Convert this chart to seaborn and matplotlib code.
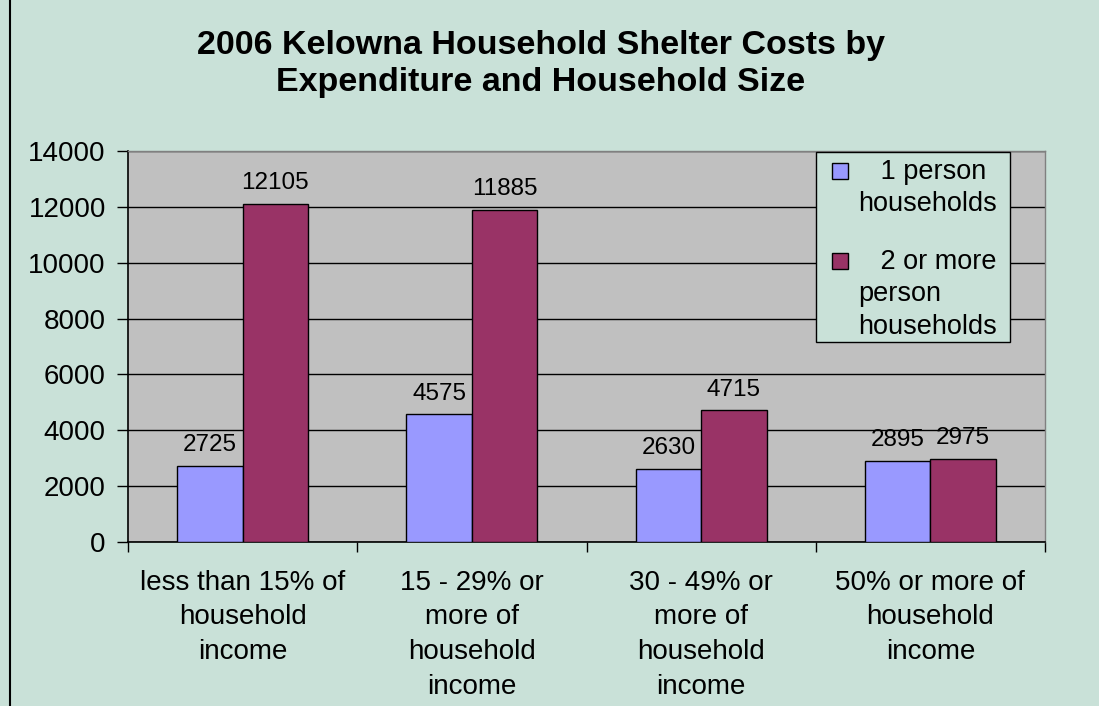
import matplotlib
matplotlib.use("Agg")
import matplotlib.pyplot as plt
import seaborn as sns
import pandas as pd
from matplotlib.patches import Rectangle

categories = ["less than 15% of\nhousehold\nincome",
              "15 - 29% or\nmore of\nhousehold\nincome",
              "30 - 49% or\nmore of\nhousehold\nincome",
              "50% or more of\nhousehold\nincome"]
series_names = ["1 person households", "2 or more person households"]
legend_labels = ["   1 person\nhouseholds", "   2 or more\nperson\nhouseholds"]
one_person = [2725, 4575, 2630, 2895]
two_plus = [12105, 11885, 4715, 2975]
yticks = [0, 2000, 4000, 6000, 8000, 10000, 12000, 14000]
colors = ["#9999FF", "#993366"]

df = pd.DataFrame({
    "category": categories * 2,
    "series": [series_names[0]] * 4 + [series_names[1]] * 4,
    "value": one_person + two_plus,
})

sns.set_theme(style="white")
plt.rcParams['font.family'] = ['Liberation Sans', 'DejaVu Sans']
plt.rcParams['text.color'] = 'black'
plt.rcParams['xtick.color'] = 'black'
plt.rcParams['ytick.color'] = 'black'

W, H = 1099, 706
bg = "#C9E1D8"
fig = plt.figure(figsize=(W/100, H/100), dpi=100, facecolor=bg)
ax = fig.add_axes([128/W, 1 - 542/H, (1045 - 128)/W, (542 - 151)/H])
ax.set_facecolor("#C0C0C0")

sns.barplot(data=df, x="category", y="value", hue="series", ax=ax,
            palette=colors, width=0.572, gap=0,
            edgecolor="black", linewidth=1.0, saturation=1, zorder=3,
            legend=False)

ax.set_ylim(0, 14000)
ax.set_xlim(-0.5, 3.5)
ax.set_yticks(yticks)
ax.set_yticklabels([str(v) for v in yticks], fontsize=20)
ax.yaxis.grid(True, color="black", linewidth=1.0, zorder=1)
ax.set_axisbelow(True)
ax.tick_params(axis="y", direction="out", length=8, width=1, color="black", pad=8, left=True)
ax.set_xticks([0, 1, 2, 3])
ax.set_xticklabels(categories, fontsize=20, linespacing=1.43)
ax.tick_params(axis="x", length=0, pad=20)
ax.set_xticks([-0.5, 0.5, 1.5, 2.5, 3.5], minor=True)
ax.tick_params(axis="x", which="minor", direction="out", length=7, width=1, color="black", bottom=True)
ax.set_xlabel("")
ax.set_ylabel("")
for s in ["top", "right"]:
    ax.spines[s].set_visible(True)
    ax.spines[s].set_color("#808080")
    ax.spines[s].set_linewidth(1)
for s in ["left", "bottom"]:
    ax.spines[s].set_color("black")
    ax.spines[s].set_linewidth(1.2)

for cont in ax.containers:
    ax.bar_label(cont, labels=[f"{int(v)}" for v in cont.datavalues],
                 padding=7, fontsize=17.5, color="black")

# legend box (manual, Excel style: marker aligned with first line)
fig.patches.append(Rectangle((816/W, 1 - 342/H), (1010 - 816)/W, (342 - 152)/H,
                             transform=fig.transFigure, facecolor=bg,
                             edgecolor="black", linewidth=1, zorder=5))
leg_tops = [159, 249]
for lab, col, top in zip(legend_labels, colors, leg_tops):
    fig.patches.append(Rectangle((832/W, 1 - (top + 20)/H), 16/W, 16/H,
                                 transform=fig.transFigure, facecolor=col,
                                 edgecolor="black", linewidth=1, zorder=6))
    fig.text(858/W, 1 - top/H, lab, ha="left", va="top", fontsize=19.5,
             linespacing=1.32, zorder=7)

fig.text(541/W, 1 - 64/H, "2006 Kelowna Household Shelter Costs by\nExpenditure and Household Size",
         ha="center", va="center", fontsize=24.5, fontweight="bold", linespacing=1.23)

fig.patches.append(Rectangle((10/W, -0.01), 1.2, 1.2, transform=fig.transFigure,
                             fill=False, edgecolor="black", linewidth=1.5))

fig.savefig("out.png", dpi=100, facecolor=bg)
